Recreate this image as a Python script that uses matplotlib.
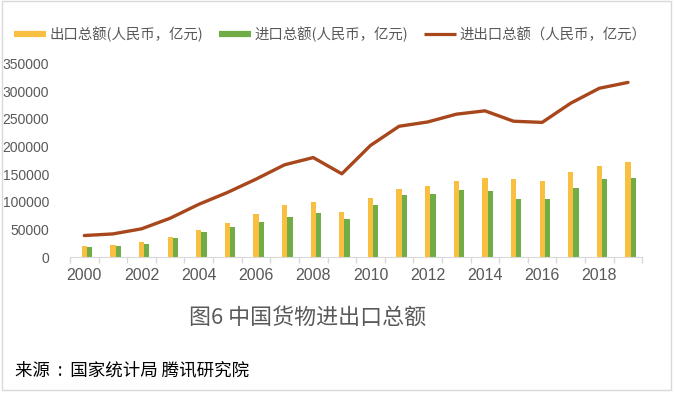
import numpy as np
import matplotlib
matplotlib.use("Agg")
import matplotlib.pyplot as plt
from matplotlib.lines import Line2D
from matplotlib.patches import Rectangle

plt.rcParams['font.family'] = ['Noto Sans CJK SC', 'DejaVu Sans']

# --- data (亿元) ---
years = list(range(2000, 2020))
exports = [20634, 22024, 26948, 36288, 49103, 62648, 77598, 93627, 100395, 82030,
           107023, 123241, 129359, 137131, 143884, 141167, 138419, 153309, 164128, 172374]
imports = [18639, 20159, 24430, 34196, 46436, 54274, 63377, 73297, 79527, 68618,
           94700, 113161, 114801, 121037, 120358, 104336, 104967, 124790, 140880, 143162]
totals = [39273, 42184, 51378, 70484, 95539, 116922, 140975, 166924, 179922, 150648,
          201723, 236402, 244160, 258169, 264242, 245503, 243386, 278099, 305008, 315505]
yticks = [0, 50000, 100000, 150000, 200000, 250000, 300000, 350000]

c_exp = "#F9BF40"
c_imp = "#70AD47"
c_tot = "#A8471C"
gray = "#595959"
num_font = ['Liberation Sans Narrow', 'Liberation Sans', 'DejaVu Sans']

fig = plt.figure(figsize=(6.74, 3.93), dpi=100)
ax = fig.add_axes([70 / 674, 1 - 257.3 / 393, (642.3 - 70) / 674, (257.3 - 63.3) / 393])

x = np.arange(len(years))
w = 0.185
ax.bar(x, exports, width=w, color=c_exp, zorder=2)
ax.bar(x + w, imports, width=w, color=c_imp, zorder=2)
ax.plot(x, totals, color=c_tot, lw=2.4, zorder=3, solid_capstyle='round')

ax.set_xlim(-0.5, len(years) - 0.5)
ax.set_ylim(0, 350000)
ax.set_yticks(yticks)
ax.set_yticklabels([str(v) for v in yticks], fontfamily=num_font, fontsize=10, color=gray)
ax.tick_params(axis='y', length=0, pad=15)

ax.set_xticks(x[::2])
ax.set_xticklabels([str(y) for y in years[::2]], fontfamily=num_font, fontsize=11.5, color=gray)
ax.set_xticks(np.arange(-0.5, len(years)), minor=True)
ax.tick_params(axis='x', which='major', length=0, pad=8)
ax.tick_params(axis='x', which='minor', length=4, color="#D9D9D9", width=1)

for s in ['top', 'right', 'left']:
    ax.spines[s].set_visible(False)
ax.spines['bottom'].set_color("#D9D9D9")

handles = [Line2D([0], [0], color=c_exp, lw=4.5, solid_capstyle='butt'),
           Line2D([0], [0], color=c_imp, lw=4.5, solid_capstyle='butt'),
           Line2D([0], [0], color=c_tot, lw=2.3, solid_capstyle='butt')]
labels = ["出口总额(人民币，亿元)", "进口总额(人民币，亿元)", "进出口总额（人民币，亿元）"]
fig.legend(handles, labels, loc='center', bbox_to_anchor=(330 / 674, 1 - 34 / 393), ncol=3,
           frameon=False, fontsize=10.4, labelcolor=gray, handlelength=2.2,
           handletextpad=0.25, columnspacing=1.1, borderpad=0, borderaxespad=0)

fig.text(308 / 674, 1 - 318 / 393, "图6 中国货物进出口总额", ha='center', va='center',
         fontsize=15.8, color=gray)
fig.text(15 / 674, 1 - 370 / 393, "来源  :  国家统计局 腾讯研究院", ha='left', va='center',
         fontsize=12.6, color="black")

fig.patches.append(Rectangle((1.5 / 674, 1 - 389.5 / 393), (671 - 1.5) / 674, (389.5 - 1) / 393,
                             transform=fig.transFigure, fill=False, edgecolor="#D9D9D9", lw=1))

fig.savefig("out.png", dpi=100)
